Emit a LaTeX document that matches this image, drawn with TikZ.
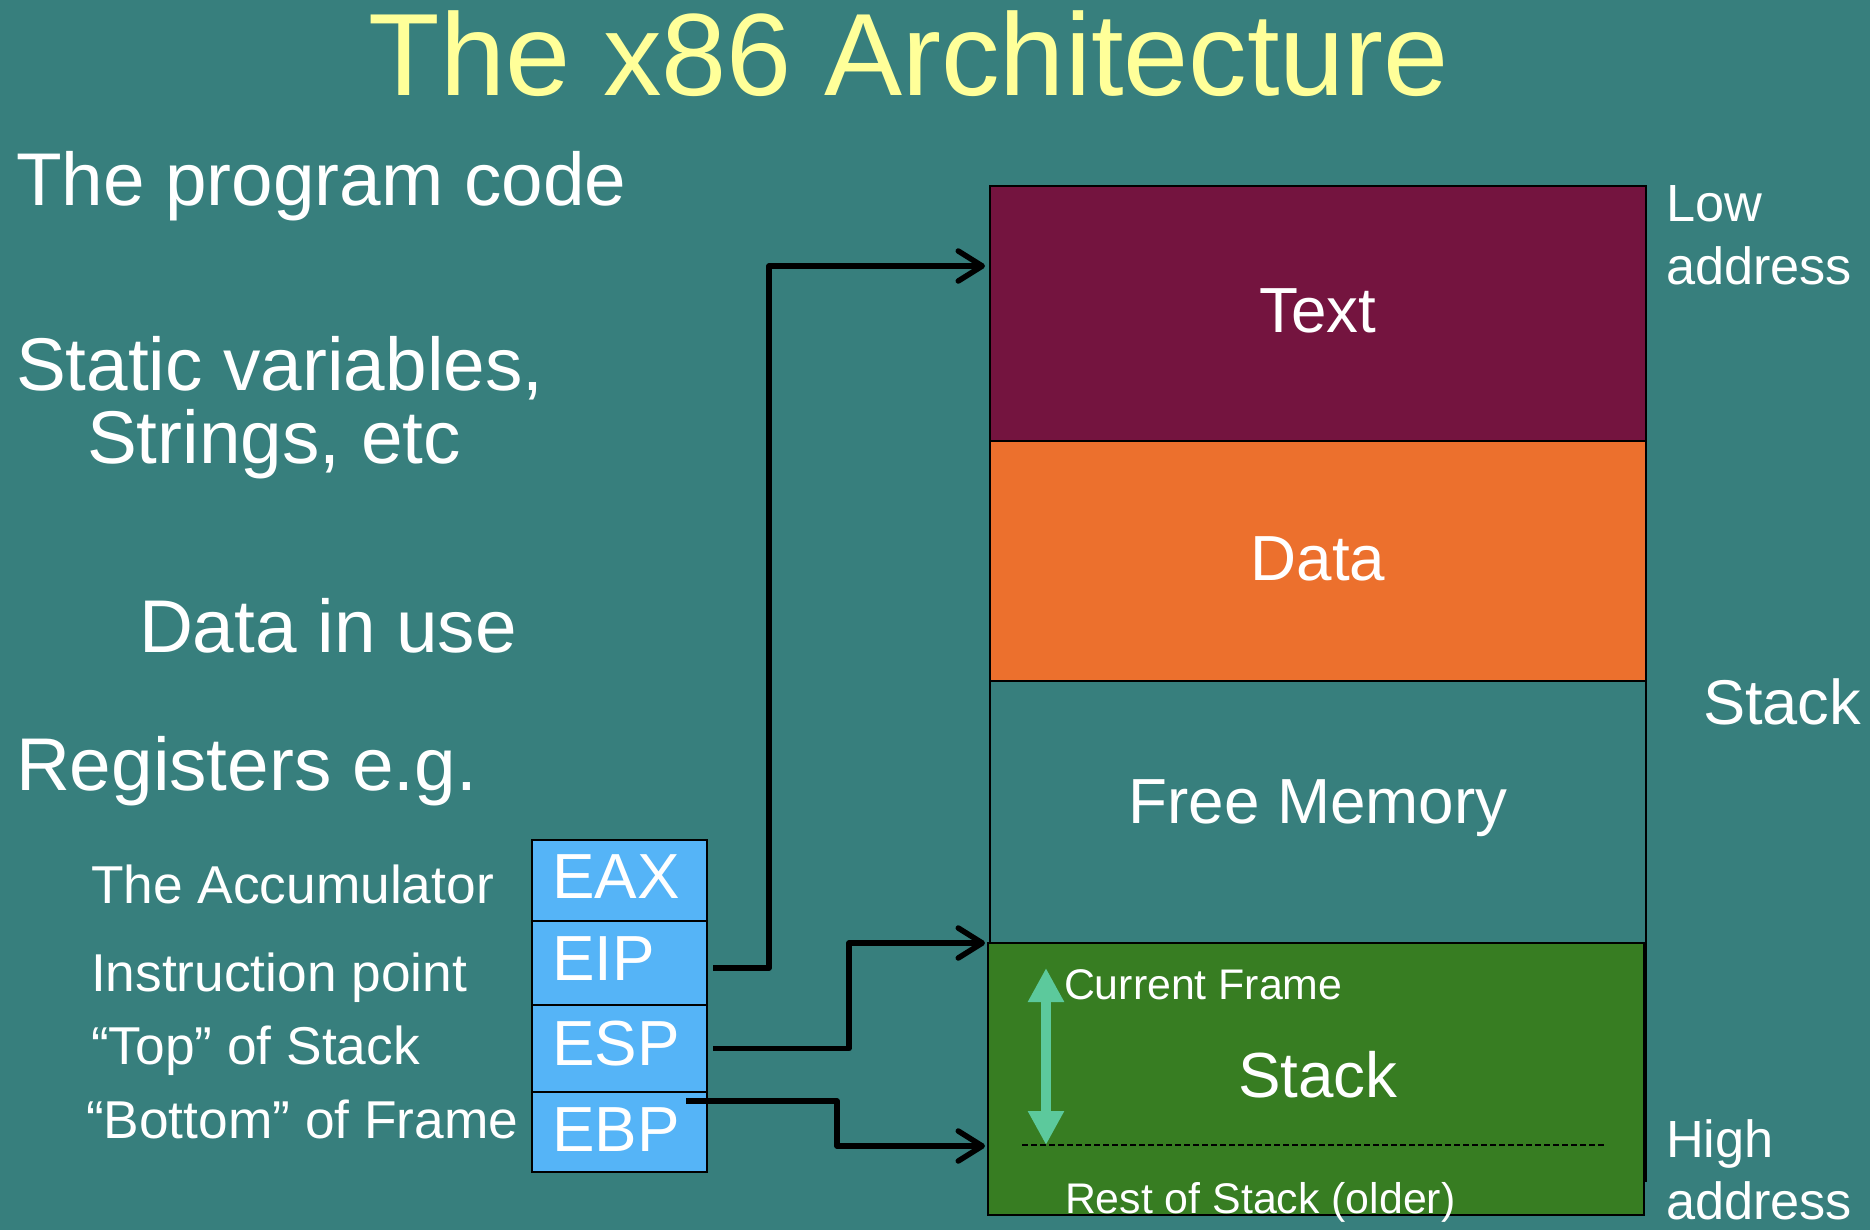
\documentclass[tikz,border=0pt]{standalone}
\usepackage{fontspec}
\setmainfont{Liberation Sans}
\usetikzlibrary{arrows.meta,calc}

\definecolor{slidebg}{HTML}{377F7D}
\definecolor{titleyellow}{HTML}{FFFF99}
\definecolor{textseg}{HTML}{74143F}
\definecolor{dataseg}{HTML}{EC702D}
\definecolor{stackseg}{HTML}{377D22}
\definecolor{regblue}{HTML}{55B4F7}
\definecolor{framearrow}{HTML}{5CC99C}

\newcommand{\fsz}[1]{\fontsize{#1}{#1}\selectfont}

\begin{document}
\begin{tikzpicture}[x=1bp,y=-1bp,
  every node/.style={inner sep=0pt, outer sep=0pt, text=white},
  heading/.style={anchor=base west, font=\fsz{75}},
  reglabel/.style={anchor=base west, font=\fsz{53.5}},
  regbox/.style={draw=black, line width=2bp, fill=regblue, anchor=north west,
                 minimum width=175bp},
  regname/.style={anchor=base west, font=\fsz{64}},
  segment/.style={draw=black, line width=2bp, anchor=north west, minimum width=656bp},
  seglabel/.style={anchor=base, font=\fsz{64}},
  sidelabel/.style={anchor=base west, font=\fsz{52.5}},
  framelabel/.style={anchor=base west, font=\fsz{43}},
  pointer/.style={draw=black, line width=5.5bp, line join=round,
                  -{Straight Barb[length=24bp,width=30bp,line cap=round,line join=round]}}
]
% background and page size
\fill[slidebg] (0,0) rectangle (1870,1230);
\useasboundingbox (0,0) rectangle (1870,1230);

% title
\node[anchor=base, text=titleyellow, font=\fsz{117.5}] (title) at (909,95) {The x86 Architecture};

% left-hand descriptions
\node[heading] (code) at (16,205) {The program code};
\node[heading] (static) at (16,390) {Static variables,};
\node[heading] (strings) at (87,463) {Strings, etc};
\node[heading] (inuse) at (139,652) {Data in use};
\node[heading] (regs) at (16,790) {Registers e.g.};

\node[reglabel] (accl) at (91,903) {The Accumulator};
\node[reglabel] (ipl) at (91,991) {Instruction point};
\node[reglabel] (topl) at (91,1064) {“Top” of Stack};
\node[reglabel] (botl) at (86,1138) {“Bottom” of Frame};

% register boxes
\node[regbox, minimum height=81bp] (eax) at (532,840) {};
\node[regbox, minimum height=84bp] (eip) at (532,921) {};
\node[regbox, minimum height=87bp] (esp) at (532,1005) {};
\node[regbox, minimum height=80bp] (ebp) at (532,1092) {};
\node[regname] (eaxn) at (552,898) {EAX};
\node[regname] (eipn) at (552,980) {EIP};
\node[regname] (espn) at (552,1065) {ESP};
\node[regname] (ebpn) at (552,1151) {EBP};

% memory layout
\node[segment, fill=textseg, minimum height=255bp] (text) at (990,186) {};
\node[segment, fill=dataseg, minimum height=240bp] (data) at (990,441) {};
\node[segment, fill=slidebg, minimum height=500bp] (free) at (990,681) {};
\node[segment, fill=stackseg, minimum height=272bp] (stack) at (988,943) {};

\node[seglabel] (textl) at (1318,332) {Text};
\node[seglabel] (datal) at (1318,580) {Data};
\node[seglabel] (freel) at (1318,823) {Free Memory};
\node[seglabel] (stackl) at (1318,1097) {Stack};

% current frame boundary and extent
\coordinate (dashl) at (1022,1145);
\coordinate (dashr) at (1606,1145);
\draw[black, line width=1.5bp, dash pattern=on 6bp off 3bp] (dashl) -- (dashr);
\coordinate (ftop) at (1046,968);
\coordinate (fbot) at (1046,1145);
\draw[framearrow, line width=10bp,
      {Triangle[length=34bp,width=34bp]}-{Triangle[length=34bp,width=34bp]}] (ftop) -- (fbot);
\node[framelabel] (curf) at (1064,999) {Current Frame};
\node[framelabel] (rest) at (1065,1213) {Rest of Stack (older)};

% address labels
\node[sidelabel] (low) at (1666,221) {Low};
\node[sidelabel] (lowa) at (1666,284) {address};
\node[anchor=base west, font=\fsz{63.5}] (stackside) at (1703,724) {Stack};
\node[sidelabel] (high) at (1666,1157) {High};
\node[sidelabel] (higha) at (1666,1219) {address};

% register pointers into memory
\coordinate (eipend) at ($(text.north west)+(-5,80)$);
\coordinate (espend) at ($(stack.north west)+(-3,0)$);
\coordinate (ebpend) at ($(stack.north west)+(-3,203)$);
\draw[pointer] ($(eip.east)+(6,5)$) -| ($(eipend)+(-216,0)$) -- (eipend);
\draw[pointer] ($(esp.east)+(6,0)$) -| ($(espend)+(-136,0)$) -- (espend);
\draw[pointer] ($(ebp.north east)+(-21,9)$) -| ($(ebpend)+(-148,0)$) -- (ebpend);
\end{tikzpicture}
\end{document}
